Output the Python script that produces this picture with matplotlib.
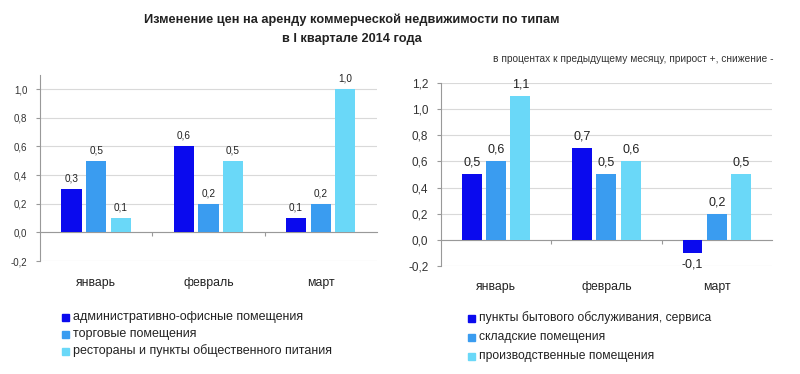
import matplotlib
matplotlib.use("Agg")
from matplotlib import pyplot as plt
from matplotlib import transforms
import numpy as np

months = ["январь", "февраль", "март"]

left_labels = ["административно-офисные помещения",
               "торговые помещения",
               "рестораны и пункты общественного питания"]
left_office = [0.3, 0.6, 0.1]
left_retail = [0.5, 0.2, 0.2]
left_food = [0.1, 0.5, 1.0]

right_labels = ["пункты бытового обслуживания, сервиса",
                "складские помещения",
                "производственные помещения"]
right_service = [0.5, 0.7, -0.1]
right_storage = [0.6, 0.5, 0.2]
right_industry = [1.1, 0.6, 0.5]

colors = ["#0A0AEE", "#3A9CF0", "#6AD8F8"]

plt.rcParams["font.family"] = ["Liberation Sans", "DejaVu Sans"]


def fmt(v):
    return f"{v:.1f}".replace(".", ",")


def draw_panel(ax, series, ylim, ticks, tick_fs, val_fs, label_y):
    x = np.arange(len(months))
    width = 0.18
    step = 0.22
    for i, vals in enumerate(series):
        pos = x + (i - 1) * step
        ax.bar(pos, vals, width, color=colors[i], zorder=3)
        for px, v in zip(pos, vals):
            if v >= 0:
                ax.annotate(fmt(v), (px, v), xytext=(0, 4), textcoords="offset points",
                            ha="center", va="bottom", fontsize=val_fs, color="#222222")
            else:
                ax.annotate(fmt(v), (px, v), xytext=(0, -4), textcoords="offset points",
                            ha="center", va="top", fontsize=val_fs, color="#222222")
    ax.set_xlim(-0.5, len(months) - 0.5)
    ax.set_ylim(*ylim)
    ax.set_yticks(ticks)
    ax.set_yticklabels([fmt(t) for t in ticks], fontsize=tick_fs, color="#333333")
    ax.yaxis.grid(True, color="#d9d9d9", linewidth=0.8, zorder=0)
    ax.set_axisbelow(True)
    for s in ["top", "right"]:
        ax.spines[s].set_visible(False)
    ax.spines["left"].set_color("#999999")
    ax.spines["bottom"].set_position(("data", 0))
    ax.spines["bottom"].set_color("#999999")
    ax.tick_params(axis="y", length=3, color="#999999", pad=6)
    ax.set_xticks([0.5, 1.5])
    ax.set_xticklabels([])
    ax.tick_params(axis="x", length=3, color="#999999", direction="out")
    trans = transforms.blended_transform_factory(ax.transData, ax.transData)
    for i, m in enumerate(months):
        ax.text(i, label_y, m, ha="center", va="center", fontsize=8.8,
                color="#222222", transform=trans, clip_on=False)


fig = plt.figure(figsize=(8, 3.74), dpi=100)
fig.patch.set_facecolor("white")

ax1 = fig.add_axes([0.05, 0.302, 0.421, 0.498])
draw_panel(ax1, [left_office, left_retail, left_food], (-0.2, 1.1),
           [-0.2, 0.0, 0.2, 0.4, 0.6, 0.8, 1.0], 7, 7.2, -0.35)

ax2 = fig.add_axes([0.551, 0.289, 0.414, 0.489])
draw_panel(ax2, [right_service, right_storage, right_industry], (-0.2, 1.2),
           [-0.2, 0.0, 0.2, 0.4, 0.6, 0.8, 1.0, 1.2], 8.5, 9, -0.36)

fig.text(0.44, 0.947, "Изменение цен на аренду коммерческой недвижимости по типам",
         ha="center", va="center", fontsize=9.2, fontweight="bold", color="#222222")
fig.text(0.44, 0.897, "в I квартале 2014 года",
         ha="center", va="center", fontsize=9.2, fontweight="bold", color="#222222")
fig.text(0.967, 0.843, "в процентах к предыдущему месяцу, прирост +, снижение -",
         ha="right", va="center", fontsize=7.3, color="#333333")

# legends
for labels, x0, y0, dy, fs in [(left_labels, 62, 317, 17, 9),
                               (right_labels, 468, 318, 19, 8.7)]:
    for i, lab in enumerate(labels):
        y = 1 - (y0 + i * dy) / 374
        fig.patches.append(plt.Rectangle((x0 / 800, y - 3.5 / 374), 7 / 800, 7 / 374,
                                         transform=fig.transFigure, color=colors[i],
                                         figure=fig))
        fig.text((x0 + 11) / 800, y, lab, ha="left", va="center", fontsize=fs,
                 color="#222222")

fig.savefig("out.png", dpi=100)
